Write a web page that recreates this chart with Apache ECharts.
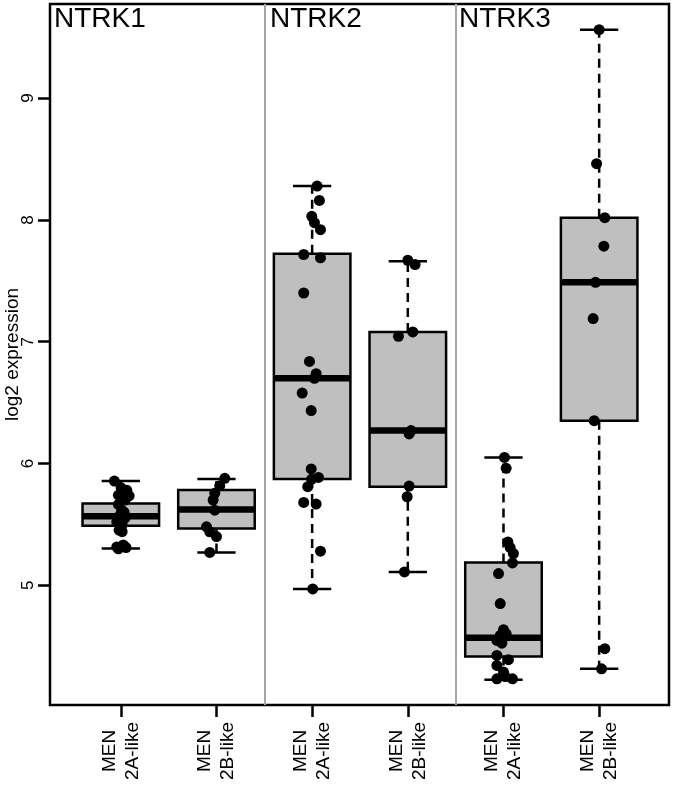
<!DOCTYPE html>
<html>
<head>
<meta charset="utf-8">
<script src="https://cdn.jsdelivr.net/npm/echarts@6/dist/echarts.min.js"></script>
<style>html,body{margin:0;padding:0;background:#fff}#c{width:675px;height:785px}</style>
</head>
<body>
<div id="c"></div>
<script>
// ---- data ----
const categories = ['MEN\n2A-like', 'MEN\n2B-like', 'MEN\n2A-like', 'MEN\n2B-like', 'MEN\n2A-like', 'MEN\n2B-like'];
const genes = ['NTRK1', 'NTRK2', 'NTRK3'];
const yTicks = [5, 6, 7, 8, 9];
const xTicks = [1, 2, 3, 4, 5, 6];
const separators = [2.5, 4.5];

const boxMin    = [5.302, 5.269, 4.970, 5.110, 4.224, 4.314];
const boxQ1     = [5.488, 5.466, 5.872, 5.810, 4.416, 6.352];
const boxMedian = [5.566, 5.623, 6.700, 6.270, 4.570, 7.488];
const boxQ3     = [5.672, 5.782, 7.722, 7.080, 5.187, 8.018];
const boxMax    = [5.856, 5.872, 8.278, 7.661, 6.050, 9.562];

const ntrk1_2A = [5.856, 5.80, 5.78, 5.74, 5.735, 5.70, 5.664, 5.617, 5.60, 5.576, 5.554, 5.54, 5.521, 5.50, 5.49, 5.453, 5.44, 5.33, 5.315, 5.31, 5.30];
const ntrk1_2A_jitter = [-0.067, 0.003, 0.063, -0.025, 0.087, 0.045, -0.025, 0.010, 0.034, -0.007, 0.045, -0.028, -0.042, 0.014, 0.010, -0.018, 0.014, 0.027, -0.042, 0.055, -0.025];
const ntrk1_2B = [5.878, 5.817, 5.755, 5.70, 5.617, 5.48, 5.439, 5.40, 5.27];
const ntrk1_2B_jitter = [0.087, 0.034, -0.018, -0.035, -0.018, -0.104, -0.070, 0.000, -0.070];
const ntrk2_2A = [8.278, 8.16, 8.03, 7.977, 7.92, 7.716, 7.689, 7.40, 6.838, 6.737, 6.70, 6.578, 6.435, 5.955, 5.886, 5.87, 5.81, 5.68, 5.667, 5.28, 4.97];
const ntrk2_2A_jitter = [0.052, 0.076, -0.004, 0.024, 0.087, -0.088, 0.087, -0.088, -0.028, 0.042, 0.024, -0.104, -0.010, -0.010, 0.066, -0.007, -0.046, -0.088, 0.042, 0.087, 0.006];
const ntrk2_2B = [7.669, 7.634, 7.08, 7.044, 6.27, 6.243, 5.815, 5.727, 5.11];
const ntrk2_2B_jitter = [0.000, 0.076, 0.052, -0.098, 0.034, 0.014, 0.014, -0.007, -0.035];
const ntrk3_2A = [6.05, 5.96, 5.356, 5.31, 5.26, 5.184, 5.096, 4.85, 4.635, 4.60, 4.588, 4.57, 4.547, 4.525, 4.424, 4.389, 4.342, 4.287, 4.25, 4.232, 4.232];
const ntrk3_2A_jitter = [0.010, 0.028, 0.046, 0.070, 0.104, 0.094, -0.052, -0.034, 0.000, 0.028, -0.034, -0.003, -0.069, -0.017, -0.069, 0.052, -0.069, 0.000, 0.018, -0.069, 0.094];
const ntrk3_2B = [9.562, 8.462, 8.018, 7.784, 7.488, 7.19, 6.352, 4.479, 4.314];
const ntrk3_2B_jitter = [0.000, -0.027, 0.059, 0.049, -0.038, -0.063, -0.052, 0.059, 0.025];

const groupPoints = [ntrk1_2A, ntrk1_2B, ntrk2_2A, ntrk2_2B, ntrk3_2A, ntrk3_2B];
const groupJitter = [ntrk1_2A_jitter, ntrk1_2B_jitter, ntrk2_2A_jitter, ntrk2_2B_jitter, ntrk3_2A_jitter, ntrk3_2B_jitter];

// ---- build ----
const FONT = 'Liberation Sans, Arial, Helvetica, sans-serif';
const boxData = xTicks.map((x, i) => [x, boxMin[i], boxQ1[i], boxMedian[i], boxQ3[i], boxMax[i]]);
const pointData = [];
groupPoints.forEach((vals, g) => {
  vals.forEach((v, i) => pointData.push([xTicks[g] + groupJitter[g][i], v]));
});

function renderBox(params, api) {
  const x = api.value(0), mn = api.value(1), q1 = api.value(2), md = api.value(3), q3 = api.value(4), mx = api.value(5);
  const hw = 0.4, cw = 0.2;
  const c = (a, b) => api.coord([a, b]);
  const top = c(x, mx), q3p = c(x, q3), q1p = c(x, q1), bot = c(x, mn);
  const capL1 = c(x - cw, mx), capR1 = c(x + cw, mx);
  const capL2 = c(x - cw, mn), capR2 = c(x + cw, mn);
  const bl = c(x - hw, q3), br = c(x + hw, q1);
  const ml = c(x - hw, md), mr = c(x + hw, md);
  const blk = '#000';
  return {
    type: 'group',
    children: [
      { type: 'line', shape: { x1: q3p[0], y1: q3p[1], x2: top[0], y2: top[1] }, style: { stroke: blk, lineWidth: 2.5, lineDash: [9, 6] } },
      { type: 'line', shape: { x1: q1p[0], y1: q1p[1], x2: bot[0], y2: bot[1] }, style: { stroke: blk, lineWidth: 2.5, lineDash: [9, 6] } },
      { type: 'line', shape: { x1: capL1[0], y1: capL1[1], x2: capR1[0], y2: capR1[1] }, style: { stroke: blk, lineWidth: 2.5 } },
      { type: 'line', shape: { x1: capL2[0], y1: capL2[1], x2: capR2[0], y2: capR2[1] }, style: { stroke: blk, lineWidth: 2.5 } },
      { type: 'rect', shape: { x: bl[0], y: bl[1], width: br[0] - bl[0], height: br[1] - bl[1] }, style: { fill: '#bfbfbf', stroke: blk, lineWidth: 2.5 } },
      { type: 'line', shape: { x1: ml[0], y1: ml[1], x2: mr[0], y2: mr[1] }, style: { stroke: blk, lineWidth: 6.5 } }
    ]
  };
}

const chart = echarts.init(document.getElementById('c'), null, { renderer: 'canvas' });
chart.setOption({
  animation: false,
  backgroundColor: '#fff',
  title: genes.map((g, i) => ({
    text: g,
    left: [54, 270, 459][i],
    top: 5,
    padding: 0,
    textStyle: { fontSize: 28, fontWeight: 'normal', color: '#000', fontFamily: FONT }
  })),
  grid: { left: 50, right: 6, top: 4, bottom: 80, show: true, borderColor: '#000', borderWidth: 2.5, backgroundColor: 'transparent', containLabel: false, outerBoundsMode: 'none' },
  xAxis: {
    type: 'value', min: 0.26, max: 6.73,
    axisLine: { show: false },
    splitLine: { show: false },
    axisTick: { show: true, customValues: xTicks, length: 12, lineStyle: { color: '#000', width: 2.5 } },
    axisLabel: {
      customValues: xTicks,
      formatter: v => categories[Math.round(v) - 1],
      rotate: 90, align: 'center', verticalAlign: 'middle',
      margin: 46, fontSize: 19, lineHeight: 23, color: '#000', fontFamily: FONT
    }
  },
  yAxis: {
    type: 'value', min: 4.017, max: 9.773,
    name: 'log2 expression', nameLocation: 'middle', nameRotate: 90, nameGap: 37, nameMoveOverlap: false,
    nameTextStyle: { fontSize: 19, color: '#000', fontFamily: FONT, verticalAlign: 'middle' },
    axisLine: { show: false },
    splitLine: { show: false },
    axisTick: { show: true, customValues: yTicks, length: 12, lineStyle: { color: '#000', width: 2.5 } },
    axisLabel: {
      customValues: yTicks,
      rotate: 90, align: 'center', verticalAlign: 'middle',
      margin: 22, fontSize: 17, color: '#000', fontFamily: FONT
    }
  },
  series: [
    {
      type: 'custom',
      renderItem: renderBox,
      data: boxData,
      encode: { x: 0, y: [1, 2, 3, 4, 5] },
      z: 2,
      markLine: {
        silent: true,
        symbol: ['none', 'none'],
        label: { show: false },
        lineStyle: { color: '#a6a6a6', width: 2, type: 'solid' },
        data: separators.map(s => ({ xAxis: s }))
      }
    },
    {
      type: 'scatter',
      data: pointData,
      symbol: 'circle',
      symbolSize: 11,
      itemStyle: { color: '#000', opacity: 1 },
      z: 5
    }
  ]
});
</script>
</body>
</html>
